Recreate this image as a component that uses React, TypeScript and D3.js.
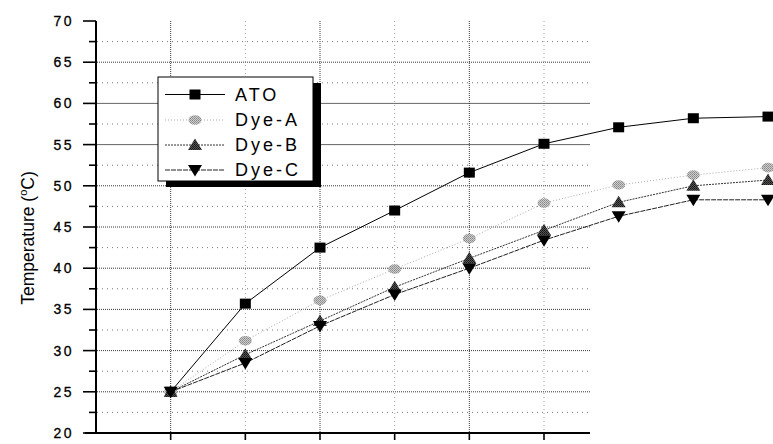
import React from "react";
import * as d3 from "d3";

const steps = [0, 1, 2, 3, 4, 5, 6, 7, 8];
const ato = [25, 35.7, 42.5, 47.0, 51.6, 55.1, 57.1, 58.2, 58.4];
const dyeA = [25, 31.2, 36.1, 39.9, 43.6, 47.9, 50.1, 51.3, 52.2];
const dyeB = [25, 29.5, 33.6, 37.7, 41.2, 44.6, 48.0, 50.0, 50.7];
const dyeC = [25, 28.5, 33.0, 36.8, 40.0, 43.4, 46.3, 48.3, 48.3];
const seriesNames = ["ATO", "Dye-A", "Dye-B", "Dye-C"];
const yMajor = [20, 25, 30, 35, 40, 45, 50, 55, 60, 65, 70];
const yMinor = [22.5, 27.5, 32.5, 37.5, 42.5, 47.5, 52.5, 57.5, 62.5, 67.5];
const xMajor = [0, 2, 4];
const xMinor = [1, 3, 5];

const W = 773, H = 444;
const FONT = "'Liberation Sans', Arial, Helvetica, sans-serif";

function Marker({ kind, x, y }: { kind: number; x: number; y: number }) {
  if (kind === 0) return <rect x={x - 5.5} y={y - 5} width={11} height={10} fill="#000" />;
  if (kind === 1) return <ellipse cx={x} cy={y} rx={6.5} ry={4.8} fill="url(#chkA)" />;
  if (kind === 2) return <path d={`M${x},${y - 6.5}L${x + 7},${y + 5}L${x - 7},${y + 5}Z`} fill="url(#chkB)" />;
  return <path d={`M${x - 7},${y - 5}L${x + 7},${y - 5}L${x},${y + 6.5}Z`} fill="#000" />;
}

const lineStyles = [
  { stroke: "#000", dash: "none", w: 1 },
  { stroke: "#aaa", dash: "1,2", w: 1 },
  { stroke: "#333", dash: "2,1", w: 1 },
  { stroke: "#222", dash: "5,1", w: 1 },
];

export default function App() {
  const x = d3.scaleLinear().domain([-1, 8]).range([96, 768]);
  const y = d3.scaleLinear().domain([20, 70]).range([433, 21]);
  const gridRight = 590;
  const all = [ato, dyeA, dyeB, dyeC];
  const line = (vals: number[]) =>
    d3.line<number>().x((_, i) => x(steps[i])).y((v) => y(v))(vals) || "";

  const lx0 = 158, ly0 = 77, lw = 155, lh = 104;
  const rowY = [94.5, 120, 145, 170];

  return (
    <svg width={W} height={H} style={{ position: "absolute", left: 0, top: 0, background: "#fff" }} fontFamily={FONT}>
      <defs>
        <pattern id="chkA" width="2" height="2" patternUnits="userSpaceOnUse">
          <rect width="2" height="2" fill="#ccc" />
          <rect width="1" height="1" fill="#888" />
          <rect x="1" y="1" width="1" height="1" fill="#999" />
        </pattern>
        <pattern id="chkB" width="2" height="2" patternUnits="userSpaceOnUse">
          <rect width="2" height="2" fill="#555" />
          <rect width="1" height="1" fill="#111" />
          <rect x="1" y="1" width="1" height="1" fill="#222" />
        </pattern>
      </defs>
      <rect width={W} height={H} fill="#fff" />
      {/* horizontal grid */}
      {yMinor.map((v) => (
        <line key={"hm" + v} x1={97} x2={gridRight} y1={y(v)} y2={y(v)} stroke="#666" strokeWidth={0.9} strokeDasharray="1,4" />
      ))}
      {yMajor.filter((v) => v > 20 && v < 70).map((v) => (
        <line key={"hM" + v} x1={97} x2={gridRight} y1={y(v)} y2={y(v)}
          stroke={v === 55 || v === 60 ? "#666" : "#222"} strokeWidth={v === 55 || v === 60 ? 1 : 0.9}
          strokeDasharray={v === 55 || v === 60 ? "none" : "1,1"} />
      ))}
      {/* vertical grid */}
      {xMinor.map((v) => (
        <line key={"vm" + v} x1={x(v)} x2={x(v)} y1={y(70)} y2={y(20)} stroke="#888" strokeWidth={0.8} strokeDasharray="1,3" />
      ))}
      {xMajor.map((v) => (
        <line key={"vM" + v} x1={x(v)} x2={x(v)} y1={y(70)} y2={y(20)} stroke="#222" strokeWidth={0.9} strokeDasharray="1,1" />
      ))}
      {/* axes */}
      <line x1={96} x2={96} y1={y(70)} y2={y(20) + 1} stroke="#000" strokeWidth={2} />
      <line x1={85} x2={gridRight} y1={y(20)} y2={y(20)} stroke="#000" strokeWidth={2} />
      {yMajor.map((v) => (
        <line key={"yt" + v} x1={83} x2={96} y1={y(v)} y2={y(v)} stroke="#000" strokeWidth={1.6} />
      ))}
      {yMinor.map((v) => (
        <line key={"ytm" + v} x1={89} x2={96} y1={y(v)} y2={y(v)} stroke="#000" strokeWidth={1.6} />
      ))}
      {[0, 1, 2, 3, 4, 5].map((v) => (
        <line key={"xt" + v} x1={x(v)} x2={x(v)} y1={y(20)} y2={y(20) + 7} stroke="#000" strokeWidth={1.6} />
      ))}
      {yMajor.map((v) => (
        <text key={"yl" + v} x={74} y={y(v)} dy="0.36em" textAnchor="end" fontSize={14} letterSpacing={2.5}
          fill="#000" stroke="#000" strokeWidth={0.3}>
          {v}
        </text>
      ))}
      <text transform={`translate(34,238) rotate(-90)`} textAnchor="middle" fontSize={17.5} fill="#000">
        Temperature (<tspan dy={-7} fontSize={11}>o</tspan><tspan dy={7}>C)</tspan>
      </text>
      {/* series */}
      {all.map((vals, k) => (
        <path key={"ln" + k} d={line(vals)} fill="none" stroke={lineStyles[k].stroke}
          strokeWidth={lineStyles[k].w} strokeDasharray={lineStyles[k].dash} />
      ))}
      {all.map((vals, k) =>
        vals.map((v, i) => <Marker key={"mk" + k + "-" + i} kind={k} x={x(steps[i])} y={y(v)} />)
      )}
      {/* legend */}
      <rect x={lx0 + 8} y={ly0 + 6} width={lw} height={lh} fill="#000" />
      <rect x={lx0} y={ly0} width={lw} height={lh} fill="#fff" stroke="#000" strokeWidth={1} />
      {seriesNames.map((name, k) => (
        <g key={"lg" + k}>
          <line x1={165} x2={225} y1={rowY[k]} y2={rowY[k]} stroke={lineStyles[k].stroke}
            strokeWidth={lineStyles[k].w} strokeDasharray={lineStyles[k].dash} />
          <Marker kind={k} x={195} y={rowY[k]} />
          <text x={235} y={rowY[k]} dy="0.36em" fontSize={18} letterSpacing={3} fill="#000">{name}</text>
        </g>
      ))}
    </svg>
  );
}
